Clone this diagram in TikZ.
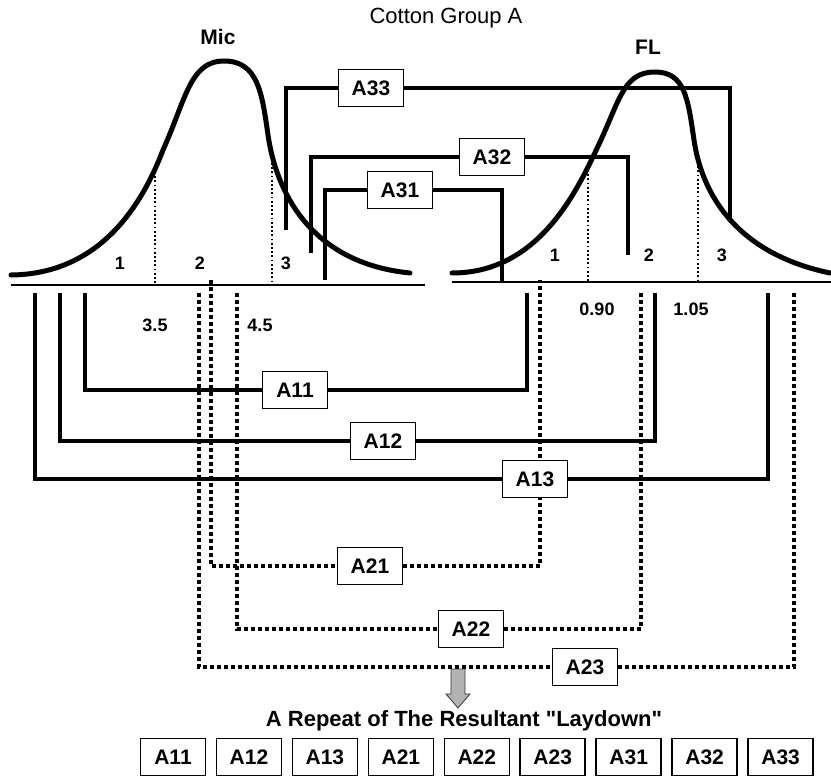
\documentclass[tikz,border=0pt]{standalone}
\usepackage{fontspec}
\setmainfont{Liberation Sans}[Ligatures=TeXOff]
\usetikzlibrary{positioning}

\tikzset{
  tag/.style={draw, line width=1.6pt, fill=white, inner sep=0pt,
    minimum width=65pt, minimum height=37pt,
    font=\fontsize{21}{24}\selectfont\bfseries},
  brk/.style={line width=3.2pt},
  dotbrk/.style={line width=3.6pt, dash pattern=on 3.6pt off 3.4pt},
  bell/.style={line width=5pt, line join=round, line cap=round},
  cut/.style={line width=1.8pt, dash pattern=on 1.8pt off 2.4pt},
  num/.style={font=\fontsize{18}{20}\selectfont\bfseries},
  head/.style={font=\fontsize{21}{24}\selectfont\bfseries}
}

\begin{document}
\begin{tikzpicture}[x=1pt, y=-1pt]
  \useasboundingbox (0,0) rectangle (831,778);

  % titles
  \node[font=\fontsize{22}{26}\selectfont] (title) at (446,18) {Cotton Group A};
  \node[head] (mic) at (218,37) {Mic};
  \node[head] (fl) at (648,47) {FL};

  % base lines
  \draw[line width=1.8pt] (11,285) -- (425,285);
  \draw[line width=1.8pt] (452,282) -- (831,282);

  % Mic curve
  \draw[bell] (11,275) .. controls (100,274) and (142,205) .. (163,150)
    .. controls (186,99) and (190,61) .. (224,61)
    .. controls (258,61) and (262,93) .. (268,135)
    .. controls (274,177) and (300,262) .. (410,273);
  % FL curve
  \draw[bell] (452,273) .. controls (540,273) and (578,189) .. (600,142)
    .. controls (620,99) and (624,72) .. (655,72)
    .. controls (685,72) and (688,99) .. (694,140)
    .. controls (699,174) and (720,250) .. (830,273);

  % class limits
  \draw[cut] (155,172) -- (155,285);
  \draw[cut] (272,163) -- (272,285);
  \draw[cut] (588,170) -- (588,282);
  \draw[cut] (698,162) -- (698,282);

  \node[num] (m1) at (120,263) {1};
  \node[num] (m2) at (200,263) {2};
  \node[num] (m3) at (286,263) {3};
  \node[num] (f1) at (555,255) {1};
  \node[num] (f2) at (649,255) {2};
  \node[num] (f3) at (722,255) {3};
  \node[num] (v35) at (155,325) {3.5};
  \node[num] (v45) at (260,325) {4.5};
  \node[num] (v090) at (597,309) {0.90};
  \node[num] (v105) at (691,309) {1.05};

  % A3x: Mic 3
  \coordinate (a31l) at (325,280); \coordinate (a31r) at (502,282);
  \coordinate (a32l) at (311,253); \coordinate (a32r) at (628,255);
  \coordinate (a33l) at (286,230); \coordinate (a33r) at (730,222);
  \node[tag] (A31) at (400,190) {A31};
  \node[tag] (A32) at (492,157) {A32};
  \node[tag] (A33) at (371,88) {A33};
  \foreach \k in {31,32,33}{
    \draw[brk] (a\k l) |- (A\k);
    \draw[brk] (A\k) -| (a\k r);
  }

  % A2x: Mic 2 (dotted)
  \coordinate (a21l) at (211,280); \coordinate (a21r) at (540,280);
  \coordinate (a22l) at (237,293); \coordinate (a22r) at (641,293);
  \coordinate (a23l) at (199,293); \coordinate (a23r) at (794,293);
  \node[tag] (A21) at (370,566) {A21};
  \node[tag] (A22) at (471,629) {A22};
  \node[tag] (A23) at (585,667) {A23};
  \foreach \k in {21,22,23}{
    \draw[dotbrk] (a\k l) |- (A\k);
    \draw[dotbrk] (A\k) -| (a\k r);
  }

  % A1x: Mic 1
  \coordinate (a11l) at (85,293); \coordinate (a11r) at (527,293);
  \coordinate (a12l) at (60,293); \coordinate (a12r) at (655,293);
  \coordinate (a13l) at (35,293); \coordinate (a13r) at (768,293);
  \node[tag] (A11) at (295,390) {A11};
  \node[tag] (A12) at (383,441) {A12};
  \node[tag] (A13) at (535,479) {A13};
  \foreach \k in {11,12,13}{
    \draw[brk] (a\k l) |- (A\k);
    \draw[brk] (A\k) -| (a\k r);
  }

  % resulting laydown
  \filldraw[fill=gray!60, draw=gray!40!black, line width=0.8pt]
    (451,669) -- (465,669) -- (465,694) -- (470,694) -- (458,708)
    -- (446,694) -- (451,694) -- cycle;
  \node[font=\fontsize{22}{26}\selectfont\bfseries] (laydown) at (464,721)
    {A Repeat of The Resultant "Laydown"};
  \foreach \t [count=\i from 0] in {A11,A12,A13,A21,A22,A23,A31,A32,A33}{
    \node[tag] (L\t) at (173+75.95*\i,757) {\t};
  }
\end{tikzpicture}
\end{document}
